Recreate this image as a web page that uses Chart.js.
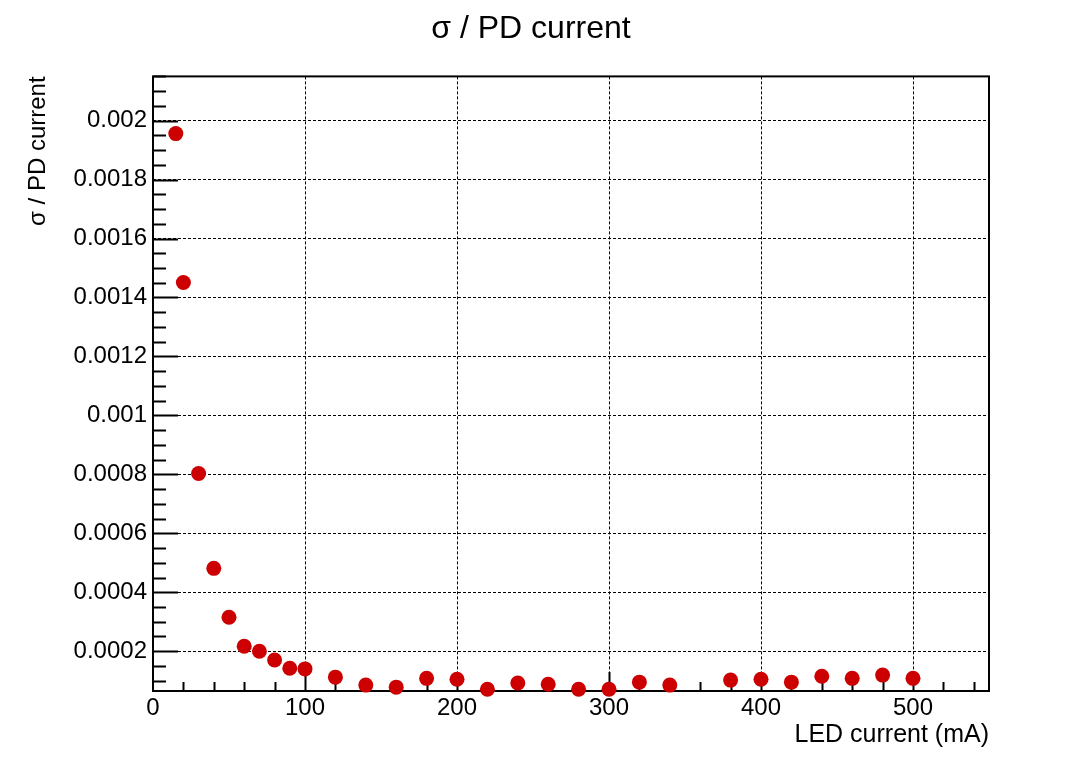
<!DOCTYPE html>
<html>
<head>
<meta charset="utf-8">
<script src="https://cdn.jsdelivr.net/npm/chart.js@4"></script>
<style>
  html, body { margin: 0; padding: 0; background: #fff; }
  #wrap { width: 1076px; height: 769px; }
</style>
</head>
<body>
<div id="wrap"><canvas id="myChart"></canvas></div>
<script>
const ledCurrent = [15, 20, 30, 40, 50, 60, 70, 80, 90, 100, 120, 140, 160, 180, 200, 220, 240, 260, 280, 300, 320, 340, 380, 400, 420, 440, 460, 480, 500];
const sigmaOverPD = [0.001956, 0.001451, 0.000803, 0.000481, 0.000315, 0.000217, 0.000200, 0.000170, 0.000142, 0.000140,
  0.000112, 0.000085, 0.000078, 0.000108, 0.000105, 0.000071, 0.000092, 0.000088, 0.000071, 0.000071,
  0.000095, 0.000085, 0.000102, 0.000105, 0.000095, 0.000115, 0.000108, 0.000119, 0.000108];

const xTicks = [0, 100, 200, 300, 400, 500];
const yTicks = [0.0002, 0.0004, 0.0006, 0.0008, 0.001, 0.0012, 0.0014, 0.0016, 0.0018, 0.002];

const points = ledCurrent.map((x, i) => ({x: x, y: sigmaOverPD[i]}));
const fontFam = '"Liberation Sans", Arial, sans-serif';

// ROOT style frame + inside tick marks
const rootFrame = {
  id: 'rootFrame',
  beforeDatasetsDraw(chart) {
    const {ctx, chartArea: a, scales} = chart;
    const xs = scales.x, ys = scales.y;
    ctx.save();
    ctx.strokeStyle = '#000';
    ctx.lineWidth = 2;
    ctx.beginPath();
    // y ticks, 4 subdivisions
    for (let v = 0.00005; v < ys.max; v += 0.00005) {
      if (v < ys.min) continue;
      const y = Math.round(ys.getPixelForValue(v)) + 0.5;
      const major = Math.abs(v / 0.0002 - Math.round(v / 0.0002)) < 1e-6;
      ctx.moveTo(a.left, y);
      ctx.lineTo(a.left + (major ? 25 : 13), y);
    }
    // x ticks, 5 subdivisions
    for (let v = 20; v < xs.max; v += 20) {
      const x = Math.round(xs.getPixelForValue(v)) + 0.5;
      const major = v % 100 === 0;
      ctx.moveTo(x, a.bottom);
      ctx.lineTo(x, a.bottom - (major ? 19 : 9));
    }
    ctx.stroke();
    ctx.strokeRect(a.left, a.top, a.right - a.left, a.bottom - a.top);
    ctx.restore();
  }
};

new Chart(document.getElementById('myChart'), {
  type: 'scatter',
  data: {
    datasets: [{
      label: 'sigma / PD current',
      data: points,
      backgroundColor: '#cc0000',
      borderWidth: 0,
      pointRadius: 7.5,
      pointHoverRadius: 8,
      clip: false
    }]
  },
  options: {
    responsive: true,
    maintainAspectRatio: false,
    animation: false,
    layout: { padding: { left: 0, right: 14, top: 0, bottom: 0 } },
    plugins: {
      legend: { display: false },
      title: {
        display: true,
        text: 'σ / PD current',
        color: '#000',
        font: { family: fontFam, size: 32, weight: 'normal' },
        padding: { top: 10, bottom: 28 }
      }
    },
    scales: {
      x: {
        type: 'linear',
        min: 0,
        max: 550,
        afterBuildTicks: s => { s.ticks = xTicks.map(v => ({value: v})); },
        afterFit: s => { s.height = 78; },
        grid: { color: '#000', lineWidth: 1, drawTicks: false },
        border: { display: false, dash: [3, 2] },
        ticks: {
          color: '#000',
          padding: 3,
          font: { family: fontFam, size: 24 },
          callback: v => String(v)
        },
        title: {
          display: true,
          text: 'LED current (mA)',
          align: 'end',
          color: '#000',
          font: { family: fontFam, size: 25 },
          padding: { top: 0, bottom: 19 }
        }
      },
      y: {
        type: 'linear',
        min: 0.000065,
        max: 0.00215,
        afterBuildTicks: s => { s.ticks = yTicks.map(v => ({value: v})); },
        afterFit: s => { s.width = 153; },
        grid: { color: '#000', lineWidth: 1, drawTicks: false },
        border: { display: false, dash: [3, 2] },
        ticks: {
          color: '#000',
          padding: 6,
          font: { family: fontFam, size: 24 },
          callback: v => String(parseFloat(Number(v).toFixed(6)))
        },
        title: {
          display: true,
          text: 'σ / PD current',
          align: 'end',
          color: '#000',
          font: { family: fontFam, size: 24 },
          padding: { top: 24, bottom: 0 }
        }
      },
      yRight: {
        type: 'linear',
        position: 'right',
        display: true,
        afterFit: s => { s.width = 73; },
        grid: { display: false, drawTicks: false },
        border: { display: false },
        ticks: { display: false }
      }
    }
  },
  plugins: [rootFrame]
});
</script>
</body>
</html>
